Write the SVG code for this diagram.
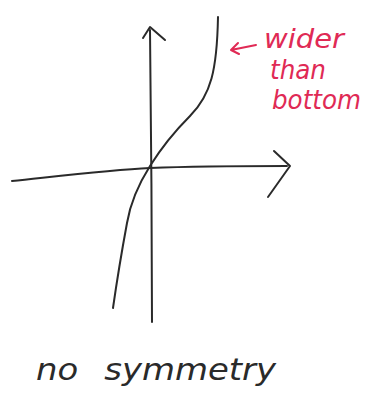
<svg xmlns="http://www.w3.org/2000/svg" width="367" height="396" viewBox="0 0 367 396">
<style>
.ink{fill:none;stroke:#2a2a2a;stroke-width:2;stroke-linecap:round;stroke-linejoin:round}
.red{fill:none;stroke:#e02a55;stroke-width:2;stroke-linecap:round;stroke-linejoin:round}
.rt{fill:#e02a55;font-family:"DejaVu Sans",sans-serif;font-style:oblique;font-size:26px}
.bt{fill:#2a2a2a;font-family:"DejaVu Sans",sans-serif;font-style:oblique;font-size:31px;word-spacing:14px}
</style>
<rect width="367" height="396" fill="#fff"/>
<g id="axes">
<path class="ink" d="M150,30 C151,120 152,230 152,322"/>
<path class="ink" d="M143,38 L150,27 L165,40"/>
<path class="ink" d="M12,181 C60,176 110,170 150,168 C200,166 250,166 287,166"/>
<path class="ink" d="M274,151 L290,166 L268,197"/>
</g>
<g id="curve">
<path class="ink" d="M218,17 C217,70 211,95 190,116 C172,134 160,150 150,166 C138,185 130,205 127,223 C122,250 117,280 113,308"/>
</g>
<g id="annotation">
<path class="red" d="M256,45 L231,50 M238,43 L231,50 L239,54"/>
<text class="rt" x="264" y="48" textLength="80" lengthAdjust="spacingAndGlyphs">wider</text>
<text class="rt" x="270" y="79" textLength="56" lengthAdjust="spacingAndGlyphs">than</text>
<text class="rt" x="272" y="109" textLength="89" lengthAdjust="spacingAndGlyphs">bottom</text>
</g>
<text class="bt" x="36" y="380" textLength="240" lengthAdjust="spacingAndGlyphs">no symmetry</text>
</svg>
